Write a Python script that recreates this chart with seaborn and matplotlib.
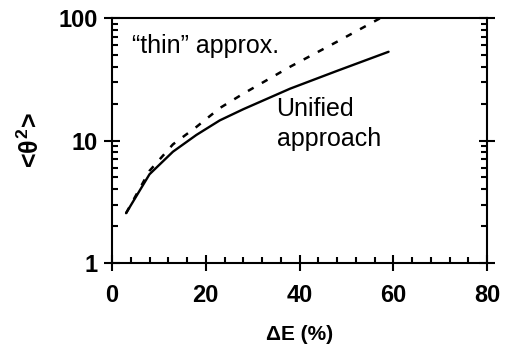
import matplotlib
matplotlib.use("Agg")
import matplotlib.pyplot as plt
import seaborn as sns
import pandas as pd
from matplotlib.ticker import MultipleLocator, FixedLocator, FuncFormatter, LogLocator

# Data
unified_x = [3, 8, 13, 18, 23, 28, 38, 48, 59]
unified_y = [2.55, 5.3, 8.1, 11.1, 14.6, 18.0, 26.5, 37.0, 53.0]
thin_x = [3, 8, 13, 18, 23, 28, 38, 48, 57.5]
thin_y = [2.55, 5.65, 9.3, 12.9, 18.4, 24.1, 40.0, 64.0, 101.0]
x_ticks = [0, 20, 40, 60, 80]
y_ticks = [1, 10, 100]

sns.set_style("ticks")
plt.rcParams['font.family'] = ['Liberation Sans', 'DejaVu Sans']
plt.rcParams['text.color'] = 'black'
plt.rcParams['axes.labelcolor'] = 'black'
plt.rcParams['xtick.color'] = 'black'
plt.rcParams['ytick.color'] = 'black'
plt.rcParams['mathtext.fontset'] = 'custom'
plt.rcParams['mathtext.rm'] = 'Liberation Sans:bold'
plt.rcParams['mathtext.it'] = 'Liberation Sans:bold'
plt.rcParams['mathtext.bf'] = 'Liberation Sans:bold'

fig = plt.figure(figsize=(5.05, 3.51), dpi=100)
ax = fig.add_axes([112/505, 1-263/351, (487-112)/505, (263-18)/351])

df_u = pd.DataFrame({"x": unified_x, "y": unified_y})
df_t = pd.DataFrame({"x": thin_x, "y": thin_y})
sns.lineplot(data=df_u, x="x", y="y", ax=ax, color="black", linewidth=1.7, sort=True)
sns.lineplot(data=df_t, x="x", y="y", ax=ax, color="black", linewidth=1.8,
             linestyle=(0, (2.6, 3.8)), sort=True)

ax.set_yscale("log")
ax.set_xlim(0, 80)
ax.set_ylim(1, 100)
ax.xaxis.set_major_locator(FixedLocator(x_ticks))
ax.xaxis.set_minor_locator(MultipleLocator(4))
ax.yaxis.set_major_locator(FixedLocator(y_ticks))
ax.yaxis.set_minor_locator(LogLocator(base=10, subs=range(2, 10)))
ax.yaxis.set_major_formatter(FuncFormatter(lambda v, p: "%g" % v))
ax.yaxis.set_minor_formatter(FuncFormatter(lambda v, p: ""))

for s in ax.spines.values():
    s.set_linewidth(1.5)
    s.set_color("black")

ax.tick_params(which="major", direction="inout", length=11, width=1.5,
               left=True, right=True, bottom=True, top=False, color="black")
ax.tick_params(which="minor", direction="in", length=4.5, width=1.5,
               left=True, right=True, bottom=True, top=False, color="black")
ax.tick_params(axis="x", which="major", pad=9.5, labelsize=17, labelcolor="black")
ax.tick_params(axis="y", which="major", pad=5, labelsize=17, labelcolor="black")
for lbl in ax.get_xticklabels() + ax.get_yticklabels():
    lbl.set_fontweight("bold")

ax.set_xlabel("ΔE (%)", fontsize=15, fontweight="bold", labelpad=13)
ax.set_ylabel(r"<$\theta^2$>", fontsize=18, fontweight="bold", labelpad=10)

ax.text(4.33, 51.5, "\u201cthin\u201d approx.", fontsize=18, va="baseline", ha="left")
ax.text(35.1, 15.85, "Unified", fontsize=18, va="baseline", ha="left")
ax.text(35.1, 9.02, "approach", fontsize=18, va="baseline", ha="left")

fig.savefig("out.png", dpi=100)
